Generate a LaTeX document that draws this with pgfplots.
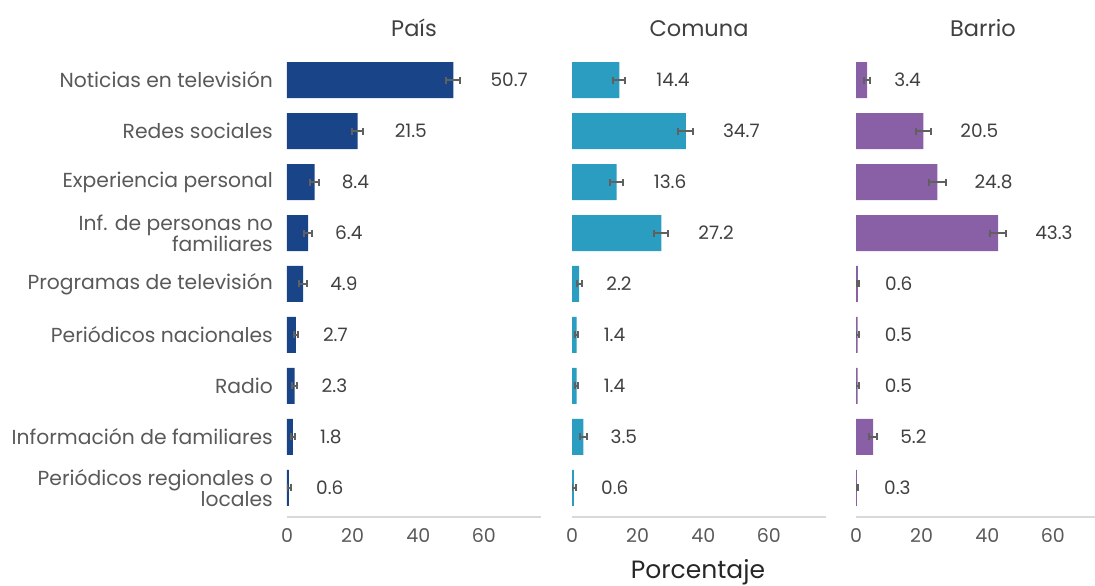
\documentclass[border=0pt]{standalone}
\usepackage{fontspec}
\setmainfont{Poppins}
\usepackage{pgfplots}
\usepackage{pgfplotstable}
\pgfplotsset{compat=1.18}
\definecolor{cpais}{HTML}{1A4488}
\definecolor{ccomuna}{HTML}{2A9DC0}
\definecolor{cbarrio}{HTML}{8960A6}
\definecolor{txt}{HTML}{404040}
\definecolor{lbl}{HTML}{595959}
\definecolor{errc}{HTML}{606060}

% p = row position (8 = top), v = percentage, e = error half-width
\pgfplotstableread{
p v e
8 50.7 2.1
7 21.5 1.7
6 8.4 1.4
5 6.4 1.1
4 4.9 1.1
3 2.7 0.7
2 2.3 0.7
1 1.8 0.7
0 0.6 0.6
}\pais
\pgfplotstableread{
p v e
8 14.4 1.9
7 34.7 2.3
6 13.6 1.9
5 27.2 2.2
4 2.2 0.8
3 1.4 0.5
2 1.4 0.5
1 3.5 1.0
0 0.6 0.5
}\comuna
\pgfplotstableread{
p v e
8 3.4 1.0
7 20.5 2.2
6 24.8 2.6
5 43.3 2.5
4 0.6 0.4
3 0.5 0.4
2 0.5 0.4
1 5.2 1.3
0 0.3 0.4
}\barrio

\pgfplotsset{
  panel/.style={
    at={(#1,69pt)}, anchor=south west,
    scale only axis, width=254pt, height=466pt,
    xmin=0, xmax=77.4, ymin=-0.57, ymax=8.57,
    xbar, bar width=36pt,
    axis lines*=left,
    y axis line style={draw=none},
    x axis line style={draw=black!15, line width=1.3pt},
    major tick length=0pt,
    xtick={0,20,40,60},
    ytick={0,...,8},
    xticklabel style={font=\fontsize{19}{22}\selectfont, text=lbl, anchor=north, inner sep=0pt, yshift=-11pt},
    /pgf/number format/assume math mode=true,
    visualization depends on={\thisrow{v} \as \vv},
    nodes near coords={\ifdim\vv pt<10pt\else\hspace*{10pt}\fi\pgfmathprintnumber[fixed,precision=1,fixed zerofill]{\vv}},
    nodes near coords style={anchor=west, inner sep=0pt, xshift=27pt, font=\fontsize{18.5}{21}\selectfont, text=txt},
    title style={anchor=base, at={(0.5,1)}, yshift=8pt, inner sep=0pt, font=\fontsize{22.5}{26}\selectfont, text=txt},
    error bars/error bar style={draw=errc, line width=2pt},
    error bars/error mark options={rotate=90, mark size=3.5pt, line width=2pt, draw=errc},
  }
}

\begin{document}
\begin{tikzpicture}
\useasboundingbox (0,0) rectangle (1095pt,586pt);
\begin{axis}[panel=287pt, title={País},
  yticklabels={{Periódicos regionales o\\locales}, {Información de familiares}, {Radio}, {Periódicos nacionales}, {Programas de televisión}, {Inf. de personas no\\familiares}, {Experiencia personal}, {Redes sociales}, {Noticias en televisión}},
  yticklabel style={align=right, anchor=east, inner sep=0pt, xshift=-14pt, font=\fontsize{20.3}{21}\selectfont, text=lbl}]
\addplot[fill=cpais, draw=none, error bars/.cd, x dir=both, x explicit] table[x=v, y=p, x error=e] {\pais};
\end{axis}
\begin{axis}[panel=572pt, title={Comuna}, yticklabels={}]
\addplot[fill=ccomuna, draw=none, error bars/.cd, x dir=both, x explicit] table[x=v, y=p, x error=e] {\comuna};
\end{axis}
\begin{axis}[panel=856pt, title={Barrio}, yticklabels={}]
\addplot[fill=cbarrio, draw=none, error bars/.cd, x dir=both, x explicit] table[x=v, y=p, x error=e] {\barrio};
\end{axis}
\node[anchor=base, font=\fontsize{25}{29}\selectfont, text=black!85] at (698pt,7pt) {Porcentaje};
\end{tikzpicture}
\end{document}
